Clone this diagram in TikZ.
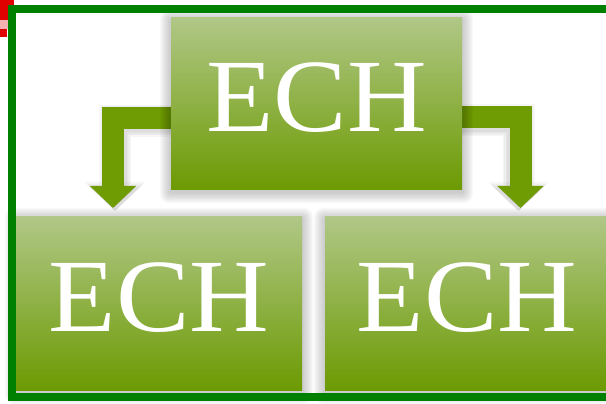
\documentclass[tikz,border=0pt]{standalone}
\usepackage{fontspec}
\setmainfont{Liberation Serif}
\usetikzlibrary{arrows.meta,calc}
\definecolor{gtop}{HTML}{B0C786}
\definecolor{gbot}{HTML}{6C9A02}
\definecolor{arrowgreen}{HTML}{6F9C02}
\definecolor{framegreen}{HTML}{008000}
\definecolor{markred}{HTML}{E00000}
\pgfdeclarelayer{arrowlayer}
\pgfdeclarelayer{shadowlayer}
\pgfsetlayers{arrowlayer,shadowlayer,main}
\tikzset{
  box/.style={rectangle, inner sep=0pt, top color=gtop, bottom color=gbot,
    text=white, font=\fontsize{104}{104}\selectfont, text height=68pt, text depth=12pt},
  conn/.style={draw=arrowgreen, line width=22pt, -{Triangle[width=45pt,length=22pt]}},
  connshadow/.style={draw=black, opacity=0.035},
  frameline/.style={draw=framegreen, line width=8pt},
}
\begin{document}
\begin{tikzpicture}[x=1pt,y=1pt]
\useasboundingbox (0,0) rectangle (606,404);
% red marks at the corner
\fill[markred!30] (0,375) rectangle (8,384);
\fill[markred] (0,384) rectangle (8,404);
\fill[markred] (8,399) rectangle (14,404);
\fill[markred] (0,367) rectangle (7,375);

% boxes
\node[box, minimum width=291pt, minimum height=172pt] (echtop) at (316.5,300) {\scalebox{1.06}[1]{ECH}};
\node[box, minimum width=286pt, minimum height=174pt] (echleft) at (159,100) {\scalebox{1.06}[1]{ECH}};
\node[box, minimum width=284pt, minimum height=174pt] (echright) at (467,100) {\scalebox{1.06}[1]{ECH}};

% soft shadows of the boxes
\begin{pgfonlayer}{shadowlayer}
\foreach \n in {echtop,echleft,echright}{
  \foreach \i in {1,...,14}{
    \fill[black,opacity=0.016, rounded corners={\i*0.7pt}] ($(\n.south west)+(-\i*0.8,{-\i*0.8-2})$) rectangle ($(\n.north east)+(\i*0.8,{\i*0.8-2})$);
  }
}
\end{pgfonlayer}

% connectors
\coordinate (ltip) at (113,196);
\coordinate (rtip) at (520.5,196);
\begin{pgfonlayer}{arrowlayer}
\foreach \w/\hw/\hl in {23/47/23, 26/51/25, 29/55/27, 32/59/29}{
  \draw[connshadow, line width=\w pt, -{Triangle[width=\hw pt,length=\hl pt]}, transform canvas={xshift=2pt,yshift=-3pt}] ([yshift=-14pt]echtop.west) -| (ltip);
  \draw[connshadow, line width=\w pt, -{Triangle[width=\hw pt,length=\hl pt]}, transform canvas={xshift=-2pt,yshift=-3pt}] ([yshift=-13.5pt]echtop.east) -| (rtip);
}
\draw[conn] ([yshift=-14pt]echtop.west) -| (ltip);
\draw[conn] ([yshift=-13.5pt]echtop.east) -| (rtip);
\end{pgfonlayer}

% outer frame
\draw[frameline] (12,7) rectangle (630,395);
\end{tikzpicture}
\end{document}
